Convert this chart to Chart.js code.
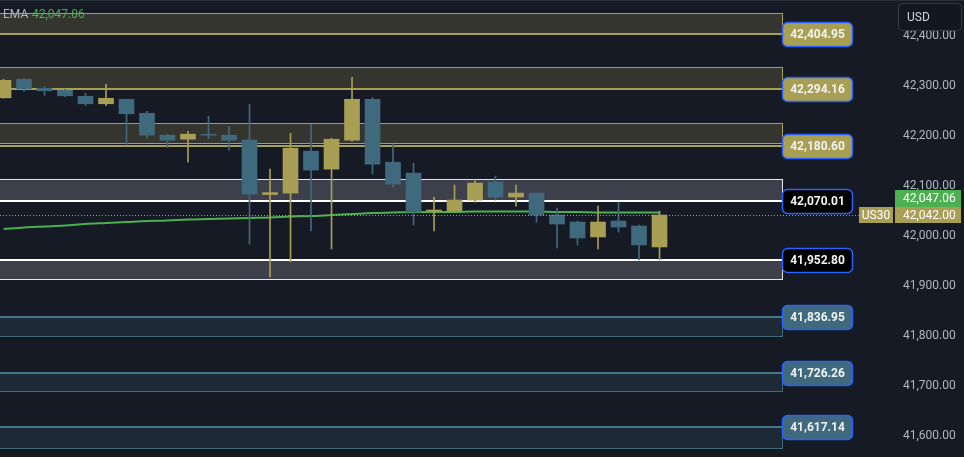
<!DOCTYPE html>
<html><head><meta charset="utf-8">
<script src="https://cdn.jsdelivr.net/npm/chart.js@4"></script>
<style>html,body{margin:0;padding:0;background:#161a25;overflow:hidden}#wrap{width:964px;height:457px;position:relative}</style>
</head><body><div id="wrap"><canvas id="c"></canvas></div>
<script>
// ---- data ----
const OPEN  = [42277,42314,42296,42292,42280,42265,42274,42246,42202,42194,42204,42202,42192,42083,42086,42170,42134,42192,42274,42148,42126,42050,42050,42072,42108,42078,42086,42042,42028,41998,42030,42020,41978];
const HIGH  = [42314,42316,42300,42294,42286,42304,42274,42250,42204,42210,42240,42220,42264,42134,42206,42224,42196,42318,42278,42184,42146,42078,42102,42114,42120,42102,42086,42056,42030,42060,42068,42022,42050];
const LOW   = [42276,42290,42282,42279,42261,42261,42184,42196,42177,42148,42195,42172,41984,41918,41948,42010,41974,42190,42124,42098,42022,42010,42048,42068,42072,42060,42028,41976,41982,41974,42008,41952,41952];
const CLOSE = [42312,42295,42291,42281,42265,42276,42245,42202,42192,42204,42202,42192,42084,42087,42176,42132,42194,42274,42144,42104,42048,42052,42072,42106,42078,42086,42042,42024,41996,42028,42018,41982,42042];
const EMA   = [42014,42017,42019,42021,42024,42026,42028,42030,42031,42033,42034,42035,42036,42037,42039,42040,42042,42044,42046,42047,42048,42048,42048,42049,42049,42049,42049,42048,42048,42047,42047,42047,42047.06];
const Y_TICKS = [41600,41700,41800,41900,42000,42100,42200,42300,42400];
const LEVELS     = [42404.95,42294.16,42180.60,42070.01,41952.80,41836.95,41726.26,41617.14];
const ZONE_TOP    = [42446,42338,42226,42114,41952.80,41836.95,41726.26,41617.14];
const ZONE_BOTTOM = [42404.95,42294.16,42186,42072,41913,41800,41690,41575];
const LEVEL_KIND  = ['sell','sell','sell','pivot','pivot','buy','buy','buy'];
const LAST_PRICE = 42042.00;
const EMA_LAST = 42047.06;
const SYMBOL = 'US30';
const CURRENCY = 'USD';
const ZONE_END = 38;

// ---- styles ----
const UP = '#a89f55', DOWN = '#3f6a7d', BG = '#161a25';
const STYLE = {
  sell:  {fill:'#34352f', border:'#a89f55', line:'#a89f55', label:'#a89f55'},
  pivot: {fill:'#3d3f4b', border:'#e6e6e6', line:'#ffffff', label:'#000000'},
  buy:   {fill:'#1d2934', border:'#3f6a7d', line:'#45778b', label:'#3f6a7d'}
};
const FONT = 'Roboto, "Noto Sans", sans-serif';

function fmt(v){
  const s = v.toFixed(2); const [i,d] = s.split('.');
  return i.replace(/\B(?=(\d{3})+(?!\d))/g, ',') + '.' + d;
}

const idx = OPEN.map((_, i) => i);
const colors = idx.map(i => CLOSE[i] >= OPEN[i] ? UP : DOWN);

const overlay = {
  id: 'overlay',
  beforeDatasetsDraw(chart){
    const {ctx, chartArea:a, scales:{x, y}} = chart;
    ctx.save();
    ctx.beginPath(); ctx.rect(a.left, a.top, a.right-a.left, a.bottom-a.top); ctx.clip();
    const xr = Math.round(x.getPixelForValue(ZONE_END));
    const xl = a.left - 5;
    for (let k = 0; k < LEVELS.length; k++){
      const st = STYLE[LEVEL_KIND[k]];
      const yt = Math.round(y.getPixelForValue(ZONE_TOP[k]));
      const yb = Math.round(y.getPixelForValue(ZONE_BOTTOM[k]));
      ctx.fillStyle = st.fill;
      ctx.fillRect(xl, yt, xr - xl, yb - yt);
      ctx.strokeStyle = st.border; ctx.lineWidth = 1;
      ctx.strokeRect(xl + 0.5, yt + 0.5, xr - xl - 1, yb - yt);
      const yl = Math.round(y.getPixelForValue(LEVELS[k]));
      ctx.strokeStyle = st.line; ctx.lineWidth = 2;
      ctx.beginPath(); ctx.moveTo(xl, yl); ctx.lineTo(xr, yl); ctx.stroke();
    }
    ctx.restore();
  },
  afterDatasetsDraw(chart){
    const {ctx, chartArea:a, scales:{y}} = chart;
    const yp = Math.round(y.getPixelForValue(LAST_PRICE)) + 0.5;
    ctx.save();
    ctx.strokeStyle = UP; ctx.lineWidth = 1; ctx.setLineDash([1,2]);
    ctx.beginPath(); ctx.moveTo(a.left, yp); ctx.lineTo(a.right, yp); ctx.stroke();
    ctx.restore();
  },
  afterDraw(chart){
    const {ctx, chartArea:a, scales:{x, y}} = chart;
    ctx.save();
    // level labels
    const xr = Math.round(x.getPixelForValue(ZONE_END));
    ctx.font = 'bold 12px ' + FONT;
    ctx.textAlign = 'center'; ctx.textBaseline = 'middle';
    for (let k = 0; k < LEVELS.length; k++){
      const st = STYLE[LEVEL_KIND[k]];
      const yl = Math.round(y.getPixelForValue(LEVELS[k]));
      ctx.beginPath(); ctx.roundRect(xr - 0.5, yl - 12 + 0.5, 70, 24, 5);
      ctx.fillStyle = st.label; ctx.fill();
      ctx.strokeStyle = '#2962ff'; ctx.lineWidth = 1.5; ctx.stroke();
      ctx.fillStyle = '#f2f2f2';
      ctx.fillText(fmt(LEVELS[k]), xr + 34.5, yl + 1);
    }
    // price tags
    const yp = Math.round(y.getPixelForValue(LAST_PRICE));
    ctx.font = '12px ' + FONT;
    ctx.fillStyle = UP;
    ctx.fillRect(895, yp - 8, 66, 16);
    ctx.fillRect(a.right, yp - 8, 34, 16);
    ctx.fillStyle = '#4caf50';
    ctx.fillRect(895, yp - 25, 66, 17);
    ctx.fillStyle = '#ffffff';
    ctx.textAlign = 'left';
    ctx.fillText(fmt(LAST_PRICE), 903, yp + 0.5);
    ctx.fillText(fmt(EMA_LAST), 903, yp - 16.5);
    ctx.textAlign = 'center';
    ctx.fillText(SYMBOL, a.right + 17, yp + 0.5);
    // currency box
    ctx.beginPath(); ctx.roundRect(898.5, 3.5, 63, 27, 4);
    ctx.fillStyle = '#131722'; ctx.fill();
    ctx.strokeStyle = '#363a45'; ctx.lineWidth = 1; ctx.stroke();
    ctx.fillStyle = '#d1d4dc'; ctx.textAlign = 'left';
    ctx.fillText(CURRENCY, 907, 17.5);
    // legend
    ctx.font = '12px ' + FONT;
    ctx.fillStyle = '#b2b5be';
    ctx.fillText('EMA', 3, 14.5);
    ctx.fillStyle = '#4caf50';
    ctx.fillText(fmt(EMA_LAST), 32, 14.5);
    // top border
    ctx.fillStyle = '#2a2e39';
    ctx.fillRect(0, 0, 964, 1);
    ctx.restore();
  }
};

const bgPlugin = {
  id: 'bg',
  beforeDraw(chart){
    const ctx = chart.ctx; ctx.save(); ctx.fillStyle = BG;
    ctx.fillRect(0, 0, chart.width, chart.height); ctx.restore();
  }
};

new Chart(document.getElementById('c'), {
  data: {
    datasets: [
      {
        type: 'bar', label: 'body', order: 1, grouped: false,
        data: idx.map(i => ({x: i, y: [OPEN[i], CLOSE[i]]})),
        backgroundColor: colors, borderWidth: 0, barThickness: 15, minBarLength: 1
      },
      {
        type: 'bar', label: 'wick', order: 2, grouped: false,
        data: idx.map(i => ({x: i, y: [LOW[i], HIGH[i]]})),
        backgroundColor: colors, borderWidth: 0, barThickness: 1
      },
      {
        type: 'line', label: 'EMA', order: 3,
        data: idx.map(i => ({x: i, y: EMA[i]})),
        borderColor: '#4caf50', borderWidth: 2, pointRadius: 0, tension: 0.35
      }
    ]
  },
  options: {
    responsive: true, maintainAspectRatio: false, animation: false,
    layout: {padding: 0},
    plugins: {legend: {display: false}, tooltip: {enabled: false}},
    scales: {
      x: {type: 'linear', display: false, min: -0.1707, max: 41.73, offset: false},
      y: {
        type: 'linear', position: 'right', min: 41557, max: 42473,
        afterBuildTicks: s => { s.ticks = Y_TICKS.map(v => ({value: v})); },
        afterFit: s => { s.width = 105; s.paddingTop = 0; s.paddingBottom = 0; },
        grid: {display: false, drawTicks: false},
        border: {display: false},
        ticks: {
          padding: 44, color: '#b2b5be', font: {family: FONT, size: 12},
          callback: v => fmt(v)
        }
      }
    }
  },
  plugins: [bgPlugin, overlay]
});
</script>
</body></html>
